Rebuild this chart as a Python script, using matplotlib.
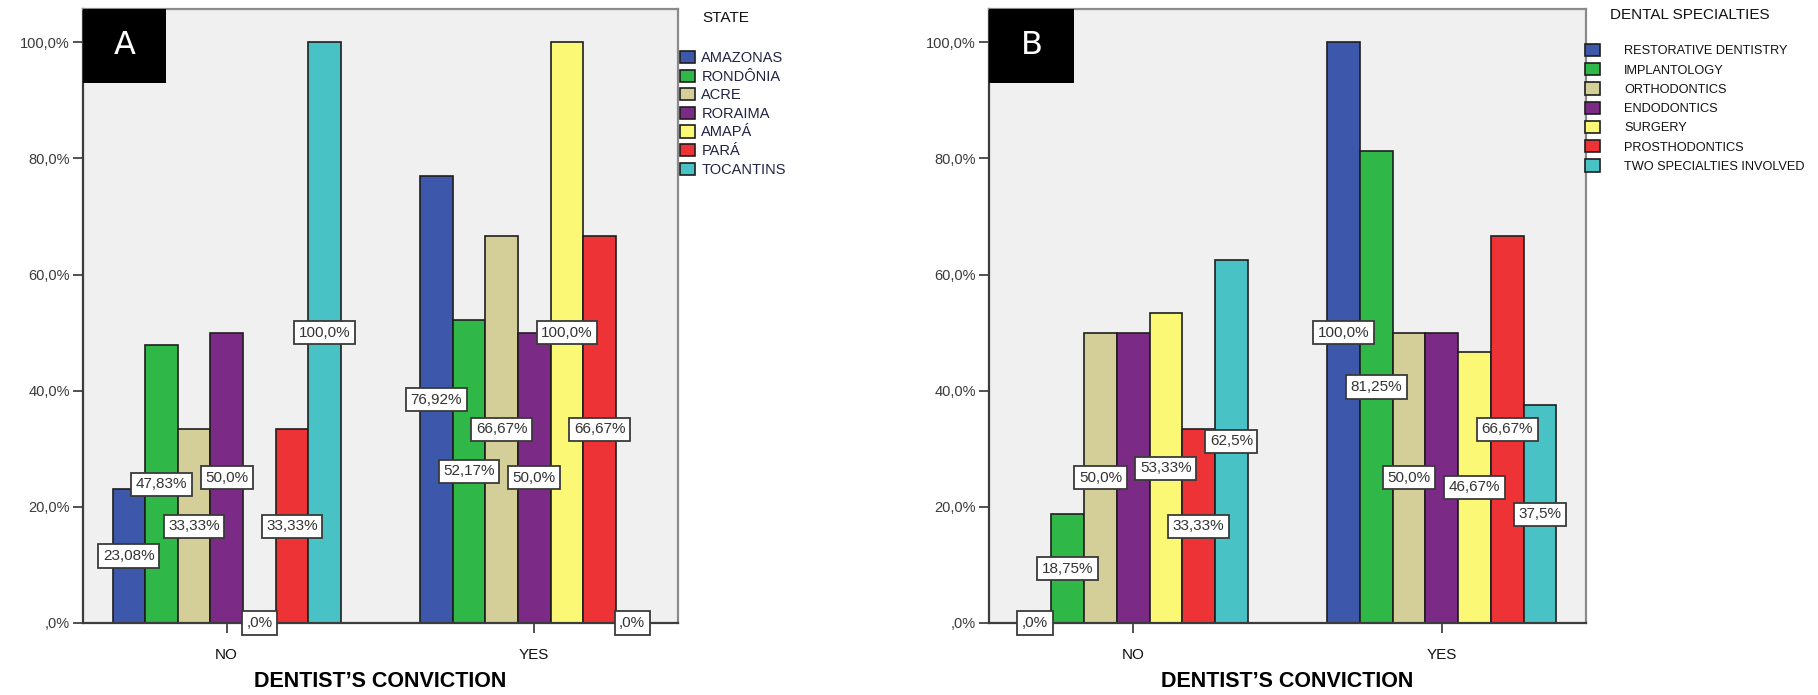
import matplotlib.pyplot as plt
import numpy as np

# ---- data ----
groups = ['NO', 'YES']

states = ['AMAZONAS', 'RONDÔNIA', 'ACRE', 'RORAIMA', 'AMAPÁ', 'PARÁ', 'TOCANTINS']
state_no = [23.08, 47.83, 33.33, 50.0, 0.0, 33.33, 100.0]
state_yes = [76.92, 52.17, 66.67, 50.0, 100.0, 66.67, 0.0]

specialties = ['RESTORATIVE DENTISTRY', 'IMPLANTOLOGY', 'ORTHODONTICS', 'ENDODONTICS',
               'SURGERY', 'PROSTHODONTICS', 'TWO SPECIALTIES INVOLVED']
spec_no = [0.0, 18.75, 50.0, 50.0, 53.33, 33.33, 62.5]
spec_yes = [100.0, 81.25, 50.0, 50.0, 46.67, 66.67, 37.5]
# labels SPSS hid because they overlapped a neighbour
spec_hidden = [(0, 3), (1, 3)]

yticks = [0, 20, 40, 60, 80, 100]

colors = ['#3d57aa', '#2fb847', '#d4cf98', '#7b2a86', '#fbf875', '#ee3337', '#49c2c5']

W, H = 1818, 695
fig = plt.figure(figsize=(W / 100, H / 100), dpi=100)
fig.patch.set_facecolor('white')

SANS = ['Liberation Sans', 'DejaVu Sans']


def pct(v):
    s = f'{v:.2f}'.rstrip('0')
    if s.endswith('.'):
        s += '0'
    if s.startswith('0.'):
        s = s[1:]
    return s.replace('.', ',') + '%'


def panel(left_px, right_px, letter, box_w, no_vals, yes_vals, hidden):
    ax = fig.add_axes([left_px / W, (H - 623) / H, (right_px - left_px) / W, (623 - 8.5) / H])
    ax.set_facecolor('#f0f0f0')
    bw = 0.106
    x = np.arange(len(groups))
    bars = []
    for i in range(7):
        vals = [no_vals[i], yes_vals[i]]
        xs = x + (i - 3) * bw
        b = ax.bar(xs, vals, bw, color=colors[i], edgecolor='#1e1e1e', linewidth=1.2, zorder=2)
        bars.append(b)
        for g, (xx, v) in enumerate(zip(xs, vals)):
            if (g, i) in hidden:
                continue
            ax.text(xx, v / 2, pct(v), ha='center', va='center', fontsize=11,
                    family=SANS, color='#333333', zorder=5,
                    bbox=dict(boxstyle='square,pad=0.3', fc='white', ec='#3a3a3a', lw=1.3))
    ax.set_xlim(-0.467, 1.467)
    ax.set_ylim(0, 105.8)
    ax.set_yticks(yticks)
    ax.set_yticklabels([pct(t) for t in yticks], family=SANS, fontsize=10.5, color='#3a3a3a')
    ax.set_xticks(x)
    ax.set_xticklabels(groups, family=SANS, fontsize=11, color='#111111')
    ax.tick_params(axis='y', length=7.5, width=1.3, color='#444444', pad=2)
    ax.tick_params(axis='x', length=7.5, width=1.3, color='#444444', pad=10.5, direction='out')
    for s in ['left', 'bottom']:
        ax.spines[s].set_color('#3c3c3c')
        ax.spines[s].set_linewidth(1.6)
    for s in ['top', 'right']:
        ax.spines[s].set_color('#8a8a8a')
        ax.spines[s].set_linewidth(1.6)
    # panel letter box
    bx = box_w / (right_px - left_px)
    ax.add_patch(plt.Rectangle((0, 1 - 0.1212), bx, 0.1212, transform=ax.transAxes,
                               facecolor='black', edgecolor='none', zorder=6, clip_on=False))
    ax.text(bx / 2, 1 - 0.1212 / 2, letter, transform=ax.transAxes, ha='center', va='center',
            color='white', fontsize=23, family=['DejaVu Sans'], zorder=7)
    ax.text(0.5, -0.095, 'DENTIST\u2019S CONVICTION', transform=ax.transAxes, ha='center',
            va='center', fontsize=15.5, fontweight='bold', family=SANS, color='black')
    return ax, bars


axA, barsA = panel(83, 678, 'A', 83, state_no, state_yes, [])
axB, barsB = panel(989, 1586, 'B', 85, spec_no, spec_yes, spec_hidden)

# legends
fig.text(702 / W, 1 - 18 / H, 'STATE', ha='left', va='center', fontsize=11, family=SANS, color='#111111')
legA = axA.legend([b[0] for b in barsA], states, loc='upper left',
                  bbox_to_anchor=(680 / W, 1 - 51 / H), bbox_transform=fig.transFigure,
                  frameon=False, borderpad=0, borderaxespad=0, handlelength=1.05, handleheight=0.9,
                  handletextpad=0.42, labelspacing=0.31, prop={'family': SANS, 'size': 10.5})
for t in legA.get_texts():
    t.set_color('#222244')

fig.text(1610 / W, 1 - 15 / H, 'DENTAL SPECIALTIES', ha='left', va='center', fontsize=11,
         family=SANS, color='#111111')
legB = axB.legend([b[0] for b in barsB], specialties, loc='upper left',
                  bbox_to_anchor=(1585 / W, 1 - 44 / H), bbox_transform=fig.transFigure,
                  frameon=False, borderpad=0, borderaxespad=0, handlelength=1.2, handleheight=1.1,
                  handletextpad=1.85, labelspacing=0.45, prop={'family': SANS, 'size': 9.2})
for t in legB.get_texts():
    t.set_color('#111111')

fig.savefig('out.png', dpi=100)
